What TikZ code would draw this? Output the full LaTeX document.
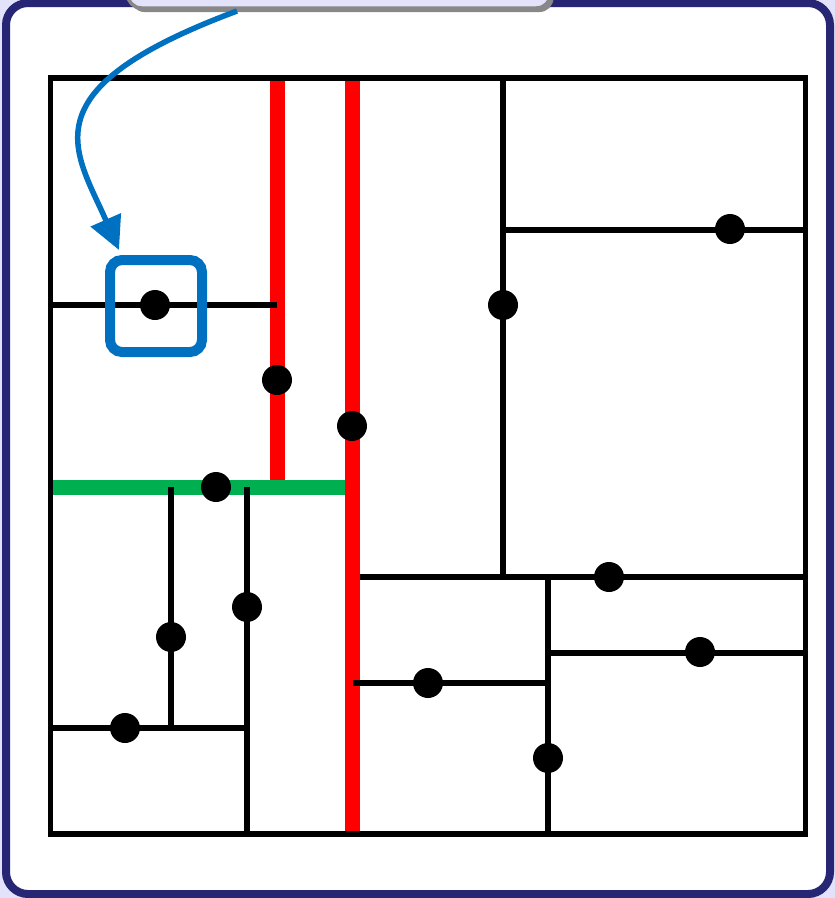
\documentclass[tikz,border=0pt]{standalone}
\usetikzlibrary{arrows.meta,shadows}
\definecolor{navy}{RGB}{38,38,116}
\definecolor{lav}{RGB}{226,226,250}
\definecolor{cgray}{RGB}{136,136,136}
\definecolor{selblue}{RGB}{0,112,192}
\definecolor{redl}{RGB}{255,0,0}
\definecolor{greenl}{RGB}{0,176,80}
\begin{document}
\begin{tikzpicture}[x=1pt,y=-1pt,
  dot/.style={circle,fill=black,minimum size=30pt,inner sep=0pt},
  part/.style={line width=5.5pt,black},
  redcut/.style={line width=15pt,redl},
  greencut/.style={line width=15pt,greenl},
  selbox/.style={draw=selblue,line width=10pt,rounded corners=12pt,minimum size=92pt,inner sep=0pt},
  calloutbox/.style={draw=cgray,line width=3.5pt,fill=lav,rounded corners=14pt,minimum width=423pt,minimum height=80pt,
    drop shadow={shadow xshift=3pt,shadow yshift=-4pt,fill=cgray,opacity=1}},
  pointer/.style={selblue,line width=5.5pt,-{Triangle[length=33pt,width=32pt]}}]
\useasboundingbox (0,0) rectangle (835,898);
\clip (0,0) rectangle (835,898);
\fill[lav] (0,0) rectangle (835,898);
\draw[navy,line width=8pt,fill=white,rounded corners=22pt] (6,3) rectangle (830,894);
% cuts
\draw[redcut] (277,78) -- (277,487);
\draw[greencut] (50,487) -- (352,487);
\draw[redcut] (352,78) -- (352,834);
\draw[part] (50,305) -- (277,305);
\draw[part] (503,78) -- (503,577);
\draw[part] (503,230) -- (805,230);
\draw[part] (359.5,577) -- (805,577);
\draw[part] (548,577) -- (548,834);
\draw[part] (548,653) -- (805,653);
\draw[part] (353,683) -- (548,683);
\draw[part] (171,487) -- (171,728);
\draw[part] (247,487) -- (247,834);
\draw[part] (50,728) -- (247,728);
\draw[part,line join=miter] (50.5,78) rectangle (805.5,834);
% selection
\node[selbox] (sel) at (156,306) {};
% points
\node[dot] (d1) at (155,305) {};
\node[dot] (d2) at (277,380) {};
\node[dot] (d3) at (352,426) {};
\node[dot] (d4) at (216,487) {};
\node[dot] (d5) at (503,305) {};
\node[dot] (d6) at (730,229) {};
\node[dot] (d7) at (247,607) {};
\node[dot] (d8) at (171,637) {};
\node[dot] (d9) at (125,728) {};
\node[dot] (d10) at (609,577) {};
\node[dot] (d11) at (700,652) {};
\node[dot] (d12) at (428,683) {};
\node[dot] (d13) at (548,758) {};
% callout
\node[calloutbox] (callout) at (339,-32) {};
\coordinate (cstart) at (237,11);
\coordinate (tip) at (119,250);
\draw[pointer] (cstart) .. controls (25,90) and (75,150) .. (tip);
\end{tikzpicture}
\end{document}
